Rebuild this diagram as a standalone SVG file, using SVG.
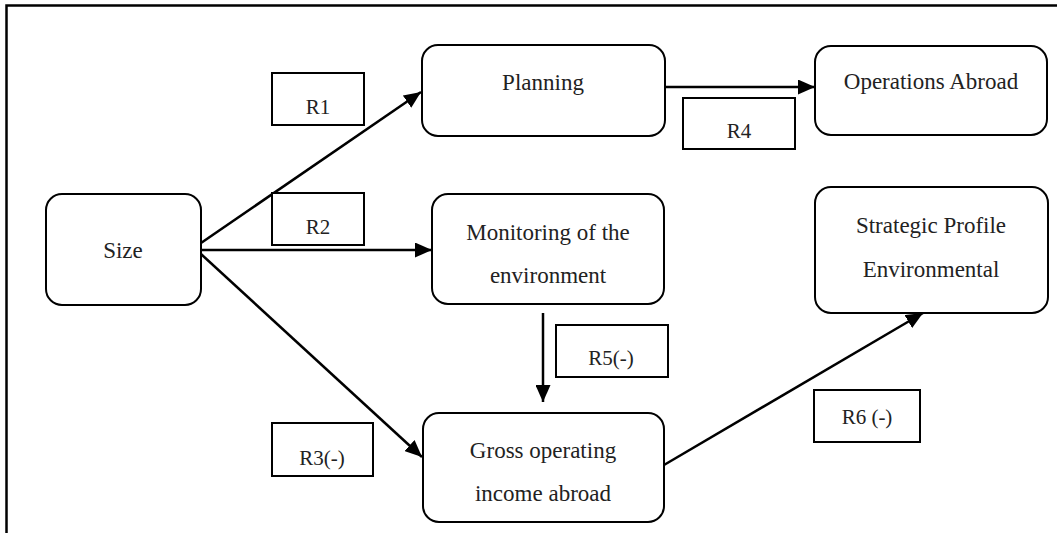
<svg xmlns="http://www.w3.org/2000/svg" width="1057" height="533" viewBox="0 0 1057 533">
<style>
.node{fill:#fff;stroke:#000;stroke-width:2}
.lbl{fill:#fff;stroke:#000;stroke-width:2}
.t{font-family:"Liberation Serif",serif;font-size:23px;fill:#222;text-anchor:middle}
.tl{font-family:"Liberation Serif",serif;font-size:21px;fill:#222;text-anchor:middle}
.edge{stroke:#000;stroke-width:2.5;fill:none;marker-end:url(#ah)}
.frame{stroke:#000;stroke-width:2.5;fill:none}
</style>
<defs>
<marker id="ah" markerUnits="userSpaceOnUse" markerWidth="17" markerHeight="15" refX="17" refY="7.5" orient="auto">
<path d="M0,0 L17,7.5 L0,15 z" fill="#000"/>
</marker>
</defs>
<rect width="1057" height="533" fill="#fff"/>
<path class="frame" d="M6.5,533 L6.5,5.5 L1057,5.5"/>
<g id="connectors">
<line class="edge" x1="201" y1="243" x2="421" y2="92"/>
<line class="edge" x1="201" y1="250" x2="432" y2="250"/>
<line class="edge" x1="201" y1="254" x2="422" y2="457"/>
<line class="edge" x1="665" y1="87" x2="815" y2="87"/>
<line class="edge" x1="543" y1="313" x2="543" y2="402"/>
<line class="edge" x1="664" y1="465" x2="923" y2="313"/>
</g>
<g id="label-R1"><rect class="lbl" x="272" y="73" width="92" height="52"/><text class="tl" x="318" y="114">R1</text></g>
<g id="label-R2"><rect class="lbl" x="272" y="193" width="92" height="52"/><text class="tl" x="318" y="234">R2</text></g>
<g id="label-R3"><rect class="lbl" x="272" y="423" width="101" height="53"/><text class="tl" x="322" y="465">R3(-)</text></g>
<g id="label-R4"><rect class="lbl" x="683" y="98" width="112" height="51"/><text class="tl" x="739" y="138">R4</text></g>
<g id="label-R5"><rect class="lbl" x="556" y="325" width="112" height="52"/><text class="tl" x="611" y="365">R5(-)</text></g>
<g id="label-R6"><rect class="lbl" x="814" y="390" width="106" height="52"/><text class="tl" x="867" y="424">R6 (-)</text></g>
<g id="node-size"><rect class="node" x="46" y="194" width="155" height="111" rx="16"/><text class="t" x="123" y="258">Size</text></g>
<g id="node-planning"><rect class="node" x="422" y="45" width="243" height="91" rx="16"/><text class="t" x="543" y="90">Planning</text></g>
<g id="node-operations"><rect class="node" x="815" y="46" width="232" height="89" rx="16"/><text class="t" x="931" y="89">Operations Abroad</text></g>
<g id="node-monitoring"><rect class="node" x="432" y="194" width="232" height="110" rx="16"/><text class="t" x="548" y="240">Monitoring of the</text><text class="t" x="548" y="283">environment</text></g>
<g id="node-strategic"><rect class="node" x="815" y="187" width="233" height="126" rx="16"/><text class="t" x="931" y="233">Strategic Profile</text><text class="t" x="931" y="277">Environmental</text></g>
<g id="node-gross"><rect class="node" x="423" y="413" width="241" height="109" rx="16"/><text class="t" x="543" y="458">Gross operating</text><text class="t" x="543" y="501">income abroad</text></g>
</svg>
